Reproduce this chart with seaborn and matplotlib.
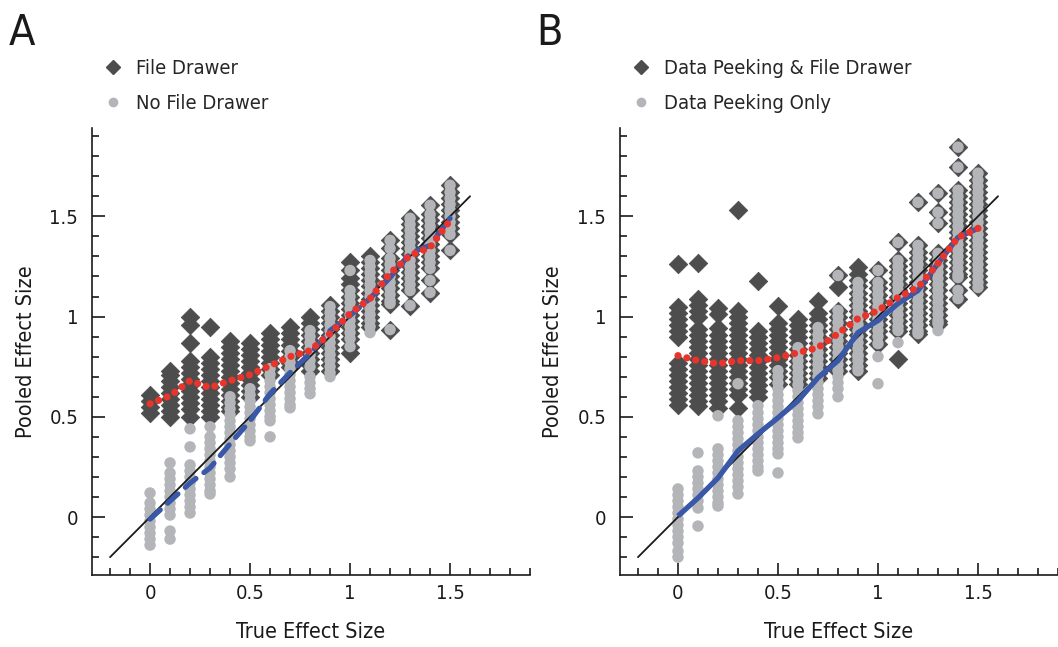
import numpy as np
import pandas as pd
import matplotlib
matplotlib.use('Agg')
import matplotlib.pyplot as plt
from matplotlib.lines import Line2D
from matplotlib.ticker import MultipleLocator, FuncFormatter
import seaborn as sns

# true effect sizes (one column of simulations each)
true_effects = [0.0, 0.1, 0.2, 0.3, 0.4, 0.5, 0.6, 0.7, 0.8, 0.9, 1.0, 1.1, 1.2, 1.3, 1.4, 1.5]

# Panel A - file drawer (diamonds)
a_file_drawer = [
    [0.52, 0.55, 0.58, 0.61],
    [0.50, 0.53, 0.56, 0.59, 0.62, 0.65, 0.68, 0.71, 0.73],
    [1.00, 0.96, 0.87, 0.78, 0.75, 0.72, 0.69, 0.66, 0.63, 0.60, 0.57, 0.54, 0.50],
    [0.95, 0.80, 0.77, 0.74, 0.71, 0.68, 0.65, 0.62, 0.59, 0.56, 0.53, 0.50],
    [0.88, 0.85, 0.82, 0.79, 0.76, 0.73, 0.70, 0.67, 0.64, 0.61, 0.58, 0.55, 0.53],
    [0.87, 0.84, 0.81, 0.78, 0.75, 0.72, 0.69, 0.66, 0.63, 0.60],
    [0.92, 0.89, 0.86, 0.83, 0.80, 0.77, 0.74, 0.71],
    [0.95, 0.92, 0.89, 0.86, 0.83, 0.80, 0.77, 0.75],
    [1.00, 0.97, 0.94, 0.91, 0.88, 0.85, 0.82, 0.79, 0.76, 0.73],
    [1.06, 1.03, 1.00, 0.97, 0.94, 0.91, 0.88, 0.85, 0.82, 0.79, 0.76, 0.73],
    [1.27, 1.23, 1.19, 1.16, 1.13, 1.10, 1.07, 1.04, 1.01, 0.98, 0.95, 0.92, 0.89, 0.85, 0.82],
    [1.30, 1.27, 1.24, 1.21, 1.18, 1.15, 1.12, 1.09, 1.06, 1.03, 1.00, 0.97, 0.95],
    [1.38, 1.34, 1.29, 1.26, 1.23, 1.20, 1.17, 1.14, 1.11, 1.08, 1.065, 0.935],
    [1.49, 1.46, 1.43, 1.40, 1.37, 1.34, 1.31, 1.28, 1.25, 1.22, 1.19, 1.16, 1.13, 1.055],
    [1.555, 1.51, 1.48, 1.45, 1.42, 1.39, 1.36, 1.33, 1.30, 1.27, 1.24, 1.18, 1.12],
    [1.655, 1.62, 1.59, 1.56, 1.53, 1.50, 1.47, 1.44, 1.41, 1.33],
]

# Panel A - no file drawer (circles)
a_no_file_drawer = [
    [0.12, 0.07, 0.04, 0.01, -0.02, -0.05, -0.08, -0.11, -0.14],
    [0.27, 0.22, 0.19, 0.16, 0.13, 0.10, 0.07, 0.04, 0.01, -0.07, -0.11],
    [0.44, 0.35, 0.26, 0.23, 0.20, 0.17, 0.14, 0.11, 0.08, 0.05, 0.02],
    [0.45, 0.40, 0.37, 0.34, 0.31, 0.28, 0.25, 0.22, 0.19, 0.16, 0.13, 0.115],
    [0.60, 0.57, 0.54, 0.51, 0.48, 0.45, 0.42, 0.39, 0.36, 0.33, 0.30, 0.27, 0.24, 0.20],
    [0.64, 0.61, 0.58, 0.55, 0.52, 0.49, 0.46, 0.43, 0.40, 0.38],
    [0.74, 0.71, 0.68, 0.65, 0.62, 0.59, 0.56, 0.53, 0.50, 0.48, 0.40],
    [0.83, 0.80, 0.77, 0.74, 0.71, 0.68, 0.65, 0.62, 0.59, 0.56, 0.545],
    [0.93, 0.90, 0.87, 0.84, 0.81, 0.78, 0.75, 0.70, 0.67, 0.64, 0.615],
    [1.05, 1.02, 0.99, 0.96, 0.93, 0.90, 0.87, 0.84, 0.81, 0.78, 0.75, 0.72, 0.70],
    [1.23, 1.13, 1.10, 1.07, 1.04, 1.01, 0.98, 0.95, 0.92, 0.89, 0.85],
    [1.28, 1.25, 1.22, 1.19, 1.16, 1.13, 1.10, 1.07, 1.04, 1.01, 0.98, 0.95, 0.92],
    [1.38, 1.34, 1.29, 1.26, 1.23, 1.20, 1.17, 1.14, 1.11, 1.08, 1.065, 0.935],
    [1.49, 1.46, 1.43, 1.40, 1.37, 1.34, 1.31, 1.28, 1.25, 1.22, 1.19, 1.16, 1.13, 1.055],
    [1.555, 1.51, 1.48, 1.45, 1.42, 1.39, 1.36, 1.33, 1.30, 1.27, 1.24, 1.18, 1.12],
    [1.655, 1.62, 1.59, 1.56, 1.53, 1.50, 1.47, 1.44, 1.41, 1.33],
]

# Panel B - data peeking & file drawer (diamonds)
b_peek_file_drawer = [
    [1.26, 1.05, 1.02, 0.99, 0.96, 0.93, 0.90, 0.77, 0.74, 0.71, 0.68, 0.65, 0.62, 0.59, 0.56],
    [1.265, 1.09, 1.06, 1.03, 1.00, 0.94, 0.91, 0.88, 0.85, 0.82, 0.79, 0.76, 0.73, 0.70, 0.67, 0.64, 0.61, 0.58, 0.555],
    [1.045, 1.015, 0.945, 0.91, 0.88, 0.85, 0.82, 0.79, 0.76, 0.73, 0.70, 0.67, 0.64, 0.61, 0.58, 0.545],
    [1.53, 1.03, 1.00, 0.97, 0.94, 0.91, 0.88, 0.85, 0.82, 0.79, 0.76, 0.73, 0.70, 0.67, 0.64, 0.61, 0.545],
    [1.175, 0.93, 0.90, 0.87, 0.84, 0.81, 0.78, 0.75, 0.72, 0.69, 0.66, 0.63, 0.60],
    [1.055, 0.97, 0.94, 0.91, 0.88, 0.85, 0.82, 0.79, 0.76, 0.73, 0.70, 0.665],
    [0.99, 0.96, 0.93, 0.90, 0.87, 0.84, 0.81, 0.78, 0.75, 0.72, 0.69, 0.665],
    [1.08, 1.02, 0.99, 0.96, 0.93, 0.90, 0.87, 0.84, 0.81, 0.78, 0.75, 0.72, 0.695],
    [1.205, 1.145, 1.03, 1.00, 0.97, 0.94, 0.91, 0.88, 0.85, 0.82, 0.79, 0.76, 0.73],
    [1.245, 1.21, 1.18, 1.15, 1.12, 1.09, 1.06, 1.03, 1.00, 0.97, 0.94, 0.91, 0.88, 0.85, 0.82, 0.79, 0.76, 0.73],
    [1.23, 1.17, 1.14, 1.11, 1.08, 1.05, 1.02, 0.99, 0.96, 0.93, 0.90, 0.865],
    [1.37, 1.28, 1.25, 1.22, 1.19, 1.16, 1.13, 1.10, 1.07, 1.04, 1.01, 0.98, 0.95, 0.93, 0.79],
    [1.57, 1.355, 1.32, 1.29, 1.26, 1.23, 1.20, 1.17, 1.14, 1.11, 1.08, 1.05, 1.02, 0.99, 0.96, 0.93, 0.915],
    [1.615, 1.52, 1.465, 1.315, 1.28, 1.25, 1.22, 1.19, 1.16, 1.13, 1.10, 1.07, 1.04, 1.01, 0.98, 0.965],
    [1.845, 1.745, 1.63, 1.60, 1.57, 1.54, 1.51, 1.48, 1.45, 1.42, 1.39, 1.36, 1.33, 1.30, 1.27, 1.24, 1.21, 1.195, 1.13, 1.09],
    [1.715, 1.68, 1.65, 1.62, 1.59, 1.56, 1.53, 1.50, 1.47, 1.44, 1.41, 1.38, 1.35, 1.32, 1.29, 1.26, 1.23, 1.20, 1.17, 1.145],
]

# Panel B - data peeking only (circles)
b_peek_only = [
    [0.14, 0.11, 0.08, 0.05, 0.02, -0.01, -0.04, -0.07, -0.10, -0.13, -0.17, -0.20],
    [0.32, 0.23, 0.20, 0.17, 0.14, 0.11, 0.08, 0.045, -0.045],
    [0.505, 0.34, 0.31, 0.28, 0.25, 0.22, 0.19, 0.16, 0.13, 0.10, 0.07, 0.055],
    [0.665, 0.48, 0.45, 0.42, 0.39, 0.36, 0.33, 0.30, 0.27, 0.24, 0.21, 0.18, 0.15, 0.115],
    [0.555, 0.52, 0.49, 0.46, 0.43, 0.40, 0.37, 0.34, 0.31, 0.28, 0.25, 0.23],
    [0.73, 0.70, 0.67, 0.64, 0.61, 0.58, 0.55, 0.52, 0.49, 0.46, 0.43, 0.40, 0.37, 0.34, 0.315, 0.22],
    [0.845, 0.81, 0.78, 0.75, 0.72, 0.69, 0.66, 0.63, 0.60, 0.57, 0.54, 0.51, 0.48, 0.45, 0.42, 0.395],
    [0.945, 0.91, 0.88, 0.85, 0.82, 0.79, 0.76, 0.73, 0.70, 0.67, 0.64, 0.61, 0.58, 0.55, 0.515],
    [1.205, 1.03, 1.00, 0.97, 0.94, 0.91, 0.88, 0.85, 0.82, 0.79, 0.76, 0.73, 0.70, 0.67, 0.64, 0.60],
    [1.17, 1.14, 1.11, 1.08, 1.05, 1.02, 0.99, 0.96, 0.93, 0.90, 0.87, 0.84, 0.81, 0.78, 0.75, 0.73, 0.80],
    [1.23, 1.17, 1.14, 1.11, 1.08, 1.05, 1.02, 0.99, 0.96, 0.93, 0.90, 0.865, 0.80, 0.665],
    [1.37, 1.28, 1.25, 1.22, 1.19, 1.16, 1.13, 1.10, 1.07, 1.04, 1.01, 0.98, 0.95, 0.93, 0.87],
    [1.57, 1.355, 1.32, 1.29, 1.26, 1.23, 1.20, 1.17, 1.14, 1.11, 1.08, 1.05, 1.02, 0.99, 0.96, 0.93, 0.915],
    [1.615, 1.52, 1.465, 1.315, 1.28, 1.25, 1.22, 1.19, 1.16, 1.13, 1.10, 1.07, 1.04, 1.01, 0.98, 0.965, 0.93],
    [1.845, 1.745, 1.63, 1.60, 1.57, 1.54, 1.51, 1.48, 1.45, 1.42, 1.39, 1.36, 1.33, 1.30, 1.27, 1.24, 1.21, 1.195, 1.13, 1.09],
    [1.715, 1.68, 1.65, 1.62, 1.59, 1.56, 1.53, 1.50, 1.47, 1.44, 1.41, 1.38, 1.35, 1.32, 1.29, 1.26, 1.23, 1.20, 1.17, 1.145],
]

# mean pooled effect per true effect
a_file_drawer_mean = [0.565, 0.605, 0.68, 0.645, 0.68, 0.71, 0.755, 0.80, 0.83, 0.915, 1.015, 1.09, 1.215, 1.305, 1.345, 1.48]
a_no_file_drawer_mean = [-0.01, 0.08, 0.17, 0.245, 0.365, 0.48, 0.615, 0.72, 0.815, 0.93, 1.005, 1.09, 1.195, 1.315, 1.355, 1.49]
b_peek_file_drawer_mean = [0.805, 0.78, 0.765, 0.78, 0.78, 0.795, 0.82, 0.845, 0.915, 0.99, 1.03, 1.095, 1.145, 1.265, 1.395, 1.44]
b_peek_only_mean = [0.005, 0.095, 0.195, 0.33, 0.415, 0.495, 0.58, 0.695, 0.78, 0.92, 0.98, 1.065, 1.13, 1.265, 1.395, 1.44]

diag_line = [-0.2, 1.6]

DARK = '#4d4d4d'
LIGHT = '#b4b5b9'
RED = '#e8342b'
BLUE = '#3a58a8'
INK = '#1a1a1a'


def to_long(columns):
    xs, ys = [], []
    for t, vals in zip(true_effects, columns):
        xs += [t] * len(vals)
        ys += vals
    return pd.DataFrame({'true': xs, 'pooled': ys})


sns.set_style('ticks')
plt.rcParams['font.family'] = ['DejaVu Sans']
plt.rcParams['font.stretch'] = 'condensed'

fig = plt.figure(figsize=(10.58, 6.47), dpi=100)
ax_a = fig.add_axes([0.087, 0.111, 0.414, 0.691])
ax_b = fig.add_axes([0.586, 0.111, 0.414, 0.691])

panels = [
    (ax_a, 'A', a_file_drawer, a_no_file_drawer, a_file_drawer_mean, a_no_file_drawer_mean,
     ['File Drawer', 'No File Drawer'], (0, (2.6, 1.9))),
    (ax_b, 'B', b_peek_file_drawer, b_peek_only, b_peek_file_drawer_mean, b_peek_only_mean,
     ['Data Peeking & File Drawer', 'Data Peeking Only'], '-'),
]

for ax, letter, dia, circ, dia_mean, circ_mean, labels, blue_style in panels:
    df_d = to_long(dia)
    df_c = to_long(circ)
    sns.scatterplot(data=df_d, x='true', y='pooled', marker='D', s=88, color=DARK,
                    edgecolor=DARK, linewidth=0.6, ax=ax, zorder=2)
    sns.scatterplot(data=df_c, x='true', y='pooled', marker='o', s=68, color=LIGHT,
                    edgecolor='none', linewidth=0, ax=ax, zorder=3)
    ax.plot(diag_line, diag_line, color=INK, lw=1.3, zorder=4)
    sns.lineplot(x=true_effects, y=circ_mean, color=BLUE, lw=3.8, ax=ax, zorder=5,
                 linestyle=blue_style, dash_capstyle='round', solid_capstyle='butt')
    sns.lineplot(x=true_effects, y=dia_mean, color=RED, lw=5.2, ax=ax, zorder=6,
                 linestyle=(0, (0.01, 1.25)), dash_capstyle='round')

    ax.set_xlim(-0.29, 1.9)
    ax.set_ylim(-0.29, 1.94)
    ax.xaxis.set_major_locator(MultipleLocator(0.5))
    ax.yaxis.set_major_locator(MultipleLocator(0.5))
    ax.xaxis.set_minor_locator(MultipleLocator(0.1))
    ax.yaxis.set_minor_locator(MultipleLocator(0.1))
    fmt = FuncFormatter(lambda v, p: '{:g}'.format(round(v, 2)))
    ax.xaxis.set_major_formatter(fmt)
    ax.yaxis.set_major_formatter(fmt)
    ax.tick_params(which='major', direction='in', length=9, width=1.2, labelsize=14.5,
                   pad=6, color=INK, labelcolor=INK)
    ax.tick_params(which='minor', direction='in', length=5, width=1.2, color=INK)
    ax.tick_params(axis='y', which='major', pad=10)
    for side in ['top', 'right']:
        ax.spines[side].set_visible(False)
    for side in ['left', 'bottom']:
        ax.spines[side].set_linewidth(1.2)
        ax.spines[side].set_color(INK)
    ax.set_xlabel('True Effect Size', fontsize=15.5, labelpad=14, color=INK)
    ax.set_ylabel('Pooled Effect Size', fontsize=15.5, labelpad=10, color=INK)

    handles = [
        Line2D([], [], marker='D', ls='none', color=DARK, markersize=7),
        Line2D([], [], marker='o', ls='none', color=LIGHT, markersize=6),
    ]
    pos = ax.get_position()
    fig.legend(handles, labels, loc='upper left',
               bbox_to_anchor=(pos.x0 + 9 / 1058, 1 - 59 / 647),
               frameon=False, fontsize=14.5, handletextpad=0.55, labelspacing=0.8,
               handlelength=1.2, borderaxespad=0, borderpad=0)
    fig.text(pos.x0 - 0.079, 0.93, letter, fontsize=31, color=INK, va='baseline')

fig.savefig('out.png', dpi=100)
